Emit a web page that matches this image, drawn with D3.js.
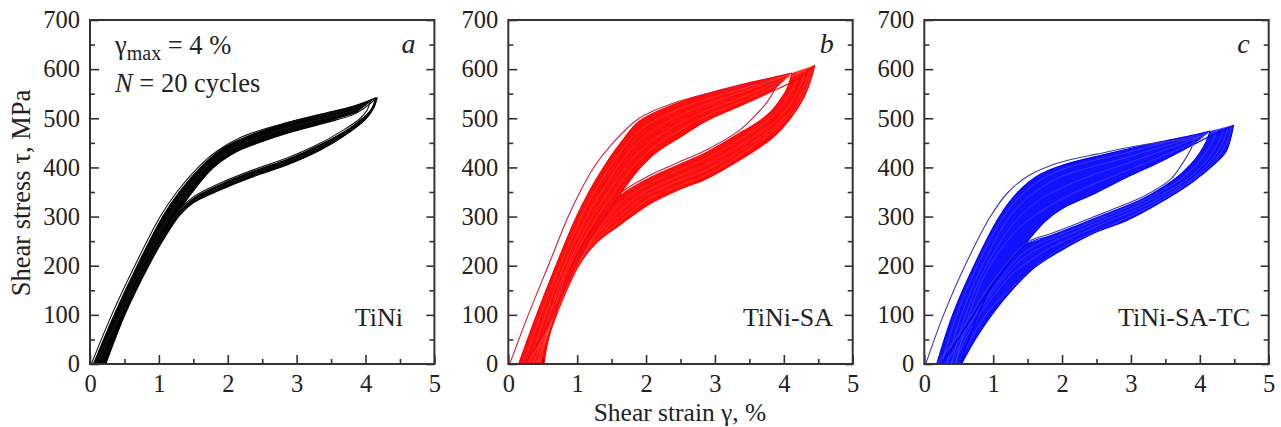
<!DOCTYPE html>
<html><head><meta charset="utf-8">
<script src="https://cdn.jsdelivr.net/npm/d3@7"></script>
<style>
body{margin:0;background:#fff;}
svg text{font-family:"Liberation Serif","Tinos","Times New Roman","Nimbus Roman","DejaVu Serif",serif;fill:#222;}
</style>
</head><body>
<svg id="chart" width="1281" height="427"></svg>
<script>
// ---------- axis ticks ----------
const xMajorTicks = [0, 1, 2, 3, 4, 5];
const xMinorTicks = [0.5, 1.5, 2.5, 3.5, 4.5];
const yMajorTicks = [0, 100, 200, 300, 400, 500, 600, 700];
const yMinorTicks = [50, 150, 250, 350, 450, 550, 650];
const panelLetters = ["a", "b", "c"];
const materials = ["TiNi", "TiNi-SA", "TiNi-SA-TC"];

// ---------- panel a: TiNi (strain %, stress MPa) ----------
const cyclesA = [1, 2, 6, 20];
const notchA = [1.31, 310];
const loadA = [
  [[0.02,0],[0.315,100],[0.65,200],[1.02,300],[1.26,350],[1.57,400],[1.85,434],[2.2,462],[2.8,489],[3.4,507],[3.8,520],[4.07,534]],
  [[0.05,0],[0.35,100],[0.685,200],[1.055,300],[1.295,350],[1.605,400],[1.93,439],[2.37,468],[2.86,491],[3.34,508],[3.83,525],[4.15,542]],
  [[0.13,0],[0.42,100],[0.76,200],[1.14,300],[1.37,348],[1.69,400],[2.0,434],[2.4,459],[2.88,481],[3.36,499],[3.84,517],[4.16,541]],
  [[0.2,0],[0.49,100],[0.83,200],[1.22,300],[1.31,315],[1.45,343],[1.78,398],[2.1,430],[2.45,450],[2.9,471],[3.4,490],[3.86,510],[4.17,542]]
];
const unloadA = [
  [[4.07,534],[4.02,516],[3.9,497],[3.7,478],[3.34,449],[2.86,419],[2.37,395],[1.89,368],[1.5,340],[1.31,315],[1.1,268],[0.85,206],[0.47,105],[0.05,0]],
  [[4.15,542],[4.09,520],[3.98,503],[3.76,479],[3.34,446],[2.86,416],[2.37,392],[1.89,365],[1.5,337],[1.31,312],[1.1,266],[0.86,205],[0.5,108],[0.13,0]],
  [[4.16,541],[4.11,521],[3.99,502],[3.75,474],[3.34,442],[2.86,411],[2.37,387],[1.89,360],[1.5,332],[1.31,308],[1.1,264],[0.86,204],[0.51,105],[0.2,0]],
  [[4.17,542],[4.12,521],[4.0,498],[3.73,468],[3.34,435],[2.86,405],[2.37,381],[1.89,354],[1.5,328],[1.31,304],[1.1,261],[0.86,202],[0.51,101],[0.23,0]]
];

// ---------- panel b: TiNi-SA ----------
const cyclesB = [1, 2, 3, 5, 8, 12, 20];
const notchB = [1.63, 346];
const loadB = [
  [[0.02,0],[0.29,100],[0.58,200],[0.87,300],[1.04,350],[1.24,400],[1.5,447],[1.9,500],[2.4,531],[2.9,551],[3.4,566],[3.92,576]],
  [[0.15,0],[0.41,100],[0.69,200],[0.99,300],[1.17,350],[1.38,400],[1.62,448],[1.9,494],[2.4,528],[2.9,551],[3.4,569],[3.8,582],[4.12,592]],
  [[0.22,0],[0.47,100],[0.75,200],[1.06,300],[1.25,350],[1.47,400],[1.7,445],[1.9,475],[2.4,514],[2.9,540],[3.4,560],[3.8,577],[4.22,596]],
  [[0.3,0],[0.54,100],[0.81,200],[1.14,300],[1.35,350],[1.58,400],[1.9,455],[2.4,500],[2.9,530],[3.4,554],[3.85,577],[4.32,601]],
  [[0.37,0],[0.6,100],[0.86,200],[1.22,300],[1.45,350],[1.7,400],[1.9,432],[2.4,483],[2.9,517],[3.4,543],[3.85,570],[4.38,604]],
  [[0.43,0],[0.64,100],[0.89,200],[1.29,300],[1.54,350],[1.8,400],[2.1,440],[2.4,468],[2.9,506],[3.4,535],[3.85,564],[4.42,607]],
  [[0.49,0],[0.68,100],[0.92,200],[1.35,300],[1.64,350],[1.92,400],[2.16,432],[2.5,462],[2.88,495],[3.36,525],[3.85,556],[4.2,580],[4.45,608]]
];
const unloadB = [
  [[3.92,576],[3.86,556],[3.74,530],[3.56,502],[3.36,476],[2.88,436],[2.4,406],[2.0,380],[1.65,350],[1.42,312],[1.18,258],[0.92,190],[0.66,110],[0.42,45],[0.15,0]],
  [[4.12,592],[4.06,565],[3.96,540],[3.8,512],[3.6,490],[3.36,470],[2.88,431],[2.4,401],[2.0,375],[1.65,345],[1.42,305],[1.18,254],[0.94,188],[0.68,110],[0.46,48],[0.22,0]],
  [[4.22,596],[4.15,567],[4.02,535],[3.84,504],[3.36,457],[2.88,419],[2.4,390],[2.0,363],[1.65,330],[1.42,294],[1.18,246],[0.96,188],[0.69,108],[0.5,50],[0.27,0]],
  [[4.32,601],[4.25,570],[4.12,535],[3.92,500],[3.36,445],[2.88,406],[2.4,378],[2.0,352],[1.65,316],[1.4,281],[1.17,240],[0.98,190],[0.7,106],[0.52,50],[0.34,0]],
  [[4.38,604],[4.32,574],[4.2,537],[4.0,499],[3.36,433],[2.88,395],[2.4,369],[2.0,342],[1.64,303],[1.38,269],[1.15,232],[0.99,195],[0.7,104],[0.54,50],[0.4,0]],
  [[4.42,607],[4.37,578],[4.26,540],[4.05,499],[3.36,424],[2.88,385],[2.45,361],[2.0,333],[1.64,293],[1.33,257],[1.08,212],[0.7,102],[0.55,50],[0.46,0]],
  [[4.45,608],[4.4,582],[4.3,545],[4.1,500],[3.85,462],[3.36,415],[2.88,377],[2.5,356],[2.06,326],[1.63,284],[1.29,248],[1.02,200],[0.7,100],[0.58,50],[0.52,0]]
];

// ---------- panel c: TiNi-SA-TC ----------
const cyclesC = [1, 2, 3, 5, 8, 12, 20];
const notchC = [1.51, 250];
const loadC = [
  [[0.02,0],[0.28,100],[0.59,200],[0.96,300],[1.22,350],[1.5,382],[1.8,402],[2.1,415],[2.5,427],[2.94,440],[3.42,451],[3.93,459]],
  [[0.18,0],[0.41,100],[0.72,200],[1.09,300],[1.36,350],[1.67,385],[1.97,403],[2.45,421],[2.94,437],[3.42,452],[3.91,466],[4.15,474]],
  [[0.25,0],[0.47,100],[0.77,200],[1.15,300],[1.44,348],[1.75,380],[2.05,398],[2.45,414],[2.94,430],[3.42,448],[3.91,464],[4.25,477]],
  [[0.32,0],[0.54,100],[0.84,200],[1.24,300],[1.56,345],[1.97,380],[2.45,402],[2.94,420],[3.42,441],[3.91,460],[4.35,481]],
  [[0.39,0],[0.6,100],[0.9,200],[1.32,290],[1.68,335],[1.97,357],[2.45,385],[2.94,408],[3.42,432],[3.91,457],[4.41,484]],
  [[0.45,0],[0.65,100],[0.95,200],[1.4,280],[1.8,320],[2.2,350],[2.7,380],[3.2,408],[3.7,437],[4.1,462],[4.46,485]],
  [[0.52,0],[0.78,100],[1.08,185],[1.3,222],[1.51,252],[1.75,290],[2.0,316],[2.49,348],[2.94,380],[3.42,411],[3.93,448],[4.2,467],[4.49,486]]
];
const unloadC = [
  [[3.93,459],[3.88,440],[3.81,422],[3.7,398],[3.57,375],[3.18,341],[2.7,313],[2.22,286],[1.85,266],[1.51,249],[1.3,222],[1.1,188],[0.88,145],[0.66,95],[0.42,45],[0.18,0]],
  [[4.15,474],[4.09,452],[4.0,430],[3.86,405],[3.65,378],[3.18,337],[2.7,309],[2.22,282],[1.85,262],[1.51,246],[1.3,218],[1.1,182],[0.88,138],[0.68,93],[0.45,42],[0.25,0]],
  [[4.25,477],[4.19,454],[4.09,431],[3.95,405],[3.7,374],[3.18,333],[2.7,305],[2.22,277],[1.85,256],[1.5,232],[1.3,207],[1.1,172],[0.88,131],[0.7,92],[0.48,40],[0.32,0]],
  [[4.35,481],[4.29,457],[4.19,432],[4.05,406],[3.78,372],[3.18,327],[2.7,299],[2.22,270],[1.85,248],[1.5,222],[1.3,198],[1.1,165],[0.88,124],[0.72,92],[0.52,40],[0.39,0]],
  [[4.41,484],[4.36,459],[4.27,434],[4.12,407],[3.85,373],[3.18,320],[2.7,292],[2.22,262],[1.85,238],[1.55,212],[1.3,186],[1.1,155],[0.9,120],[0.75,88],[0.55,38],[0.45,0]],
  [[4.46,485],[4.42,460],[4.33,435],[4.17,406],[3.88,372],[3.3,322],[2.8,288],[2.3,258],[1.9,228],[1.6,197],[1.35,165],[1.1,132],[0.92,105],[0.75,68],[0.6,30],[0.5,0]],
  [[4.49,486],[4.45,460],[4.38,432],[4.2,405],[3.91,372],[3.42,328],[2.94,292],[2.49,268],[2.0,232],[1.61,197],[1.27,150],[0.98,100],[0.74,50],[0.54,0]]
];

// ---------- layout & styles ----------
const svg = d3.select("#chart");
const plotTop = 20, plotH = 344, plotW = 344.4;
const panels = [
  {left: 90,    cycles: cyclesA, load: loadA, unload: unloadA, notch: notchA, fill: "#050505", color: "#000", streak: "#2a2a2a", first: "#111", firstW: 1.1, matX: 403},
  {left: 508.3, cycles: cyclesB, load: loadB, unload: unloadB, notch: notchB, fill: "#ff0c0c", color: "#f00", streak: "#ff6b5e", first: "#cf1f3d", firstW: 1.1, matX: 833},
  {left: 924.3, cycles: cyclesC, load: loadC, unload: unloadC, notch: notchC, fill: "#1212ff", color: "#0000f5", streak: "#6868ff", first: "#3a3ab4", firstW: 1.1, matX: 1250}
];

panels.forEach((p, i) => {
  const x = d3.scaleLinear().domain([0, 5]).range([p.left, p.left + plotW]);
  const y = d3.scaleLinear().domain([0, 700]).range([plotTop + plotH, plotTop]);
  const line = d3.line().x(d => x(d[0])).y(d => y(d[1])).curve(d3.curveCatmullRom.alpha(0.5));
  const join = parts => parts.map((pts, j) => j === 0 ? line(pts) : line(pts).replace(/^M/, "L")).join("") + "Z";
  const g = svg.append("g");
  const n = p.cycles.length;
  const load2 = p.load[1], unload2 = p.unload[1];
  const loadN = p.load[n - 1], unloadN = p.unload[n - 1];

  // band covered by cycles 2..N
  g.append("path").attr("d", join([load2, unloadN])).attr("fill", p.fill).attr("stroke", "none");
  // open loop interior (between last loading and cycle-2 unloading above the notch)
  const tip2 = unload2[0][0];
  const holeTop = loadN.filter(d => d[0] >= p.notch[0] && d[0] < tip2);
  const holeBottom = unload2.filter(d => d[0] >= p.notch[0]);
  g.append("path").attr("d", join([holeTop, holeBottom])).attr("fill", "#fff").attr("stroke", "none");

  // intermediate cycles as faint streaks inside the band
  for (let k = n - 2; k >= 2; k--) {
    [p.load[k], p.unload[k]].forEach(pts => {
      g.append("path").attr("d", line(pts)).attr("fill", "none")
        .attr("stroke", p.streak).attr("stroke-width", 0.6).attr("stroke-opacity", 0.7);
    });
  }
  // band edge cycles
  [load2, unload2, loadN, unloadN].forEach(pts => {
    g.append("path").attr("d", line(pts)).attr("fill", "none")
      .attr("stroke", p.color).attr("stroke-width", 1.1).attr("stroke-linejoin", "round");
  });
  // first cycle
  [p.load[0], p.unload[0]].forEach(pts => {
    g.append("path").attr("d", line(pts)).attr("fill", "none")
      .attr("stroke", p.first).attr("stroke-width", p.firstW).attr("stroke-linejoin", "round");
  });

  const styleAxis = sel => {
    sel.select(".domain").remove();
    sel.attr("font-family", null).attr("font-size", null);
    sel.selectAll(".tick line").attr("stroke", "#333").attr("stroke-width", 1.6);
    sel.selectAll("text").attr("fill", "#222").style("font-size", "24.5px");
  };
  g.append("g").attr("transform", `translate(${p.left},0)`)
    .call(d3.axisLeft(y).tickValues(yMajorTicks).tickSize(-9).tickPadding(10).tickFormat(d3.format("d"))).call(styleAxis);
  g.append("g").attr("transform", `translate(${p.left},0)`)
    .call(d3.axisLeft(y).tickValues(yMinorTicks).tickSize(-5).tickFormat("")).call(styleAxis);
  g.append("g").attr("transform", `translate(${p.left + plotW},0)`)
    .call(d3.axisRight(y).tickValues(yMajorTicks).tickSize(-8).tickFormat("")).call(styleAxis);
  g.append("g").attr("transform", `translate(${p.left + plotW},0)`)
    .call(d3.axisRight(y).tickValues(yMinorTicks).tickSize(-5).tickFormat("")).call(styleAxis);
  g.append("g").attr("transform", `translate(0,${plotTop + plotH})`)
    .call(d3.axisBottom(x).tickValues(xMajorTicks).tickSize(-9).tickPadding(10.5).tickFormat(d3.format("d"))).call(styleAxis);
  g.append("g").attr("transform", `translate(0,${plotTop + plotH})`)
    .call(d3.axisBottom(x).tickValues(xMinorTicks).tickSize(-5).tickFormat("")).call(styleAxis);

  g.append("rect").attr("x", p.left).attr("y", plotTop).attr("width", plotW).attr("height", plotH)
    .attr("fill", "none").attr("stroke", "#333").attr("stroke-width", 2);

  g.append("text").attr("x", p.left + plotW - 19).attr("y", 53).attr("text-anchor", "end")
    .style("font-size", "28px").style("font-style", "italic").text(panelLetters[i]);
  g.append("text").attr("x", p.matX).attr("y", 326).attr("text-anchor", "end")
    .style("font-size", "26px").text(materials[i]);
});

const t1 = svg.append("text").attr("x", 115).attr("y", 54).style("font-size", "26.5px");
t1.append("tspan").text("γ");
t1.append("tspan").attr("dy", 6).style("font-size", "20px").text("max");
t1.append("tspan").attr("dy", -6).text(" = 4 %");
const t2 = svg.append("text").attr("x", 115).attr("y", 92).style("font-size", "26.5px");
t2.append("tspan").style("font-style", "italic").text("N");
t2.append("tspan").text(" = 20 cycles");

svg.append("text").attr("transform", "translate(30,193) rotate(-90)").attr("text-anchor", "middle")
  .style("font-size", "26.5px").text("Shear stress τ, MPa");
svg.append("text").attr("x", 680).attr("y", 421).attr("text-anchor", "middle")
  .style("font-size", "25.5px").text("Shear strain γ, %");
</script>
</body></html>
